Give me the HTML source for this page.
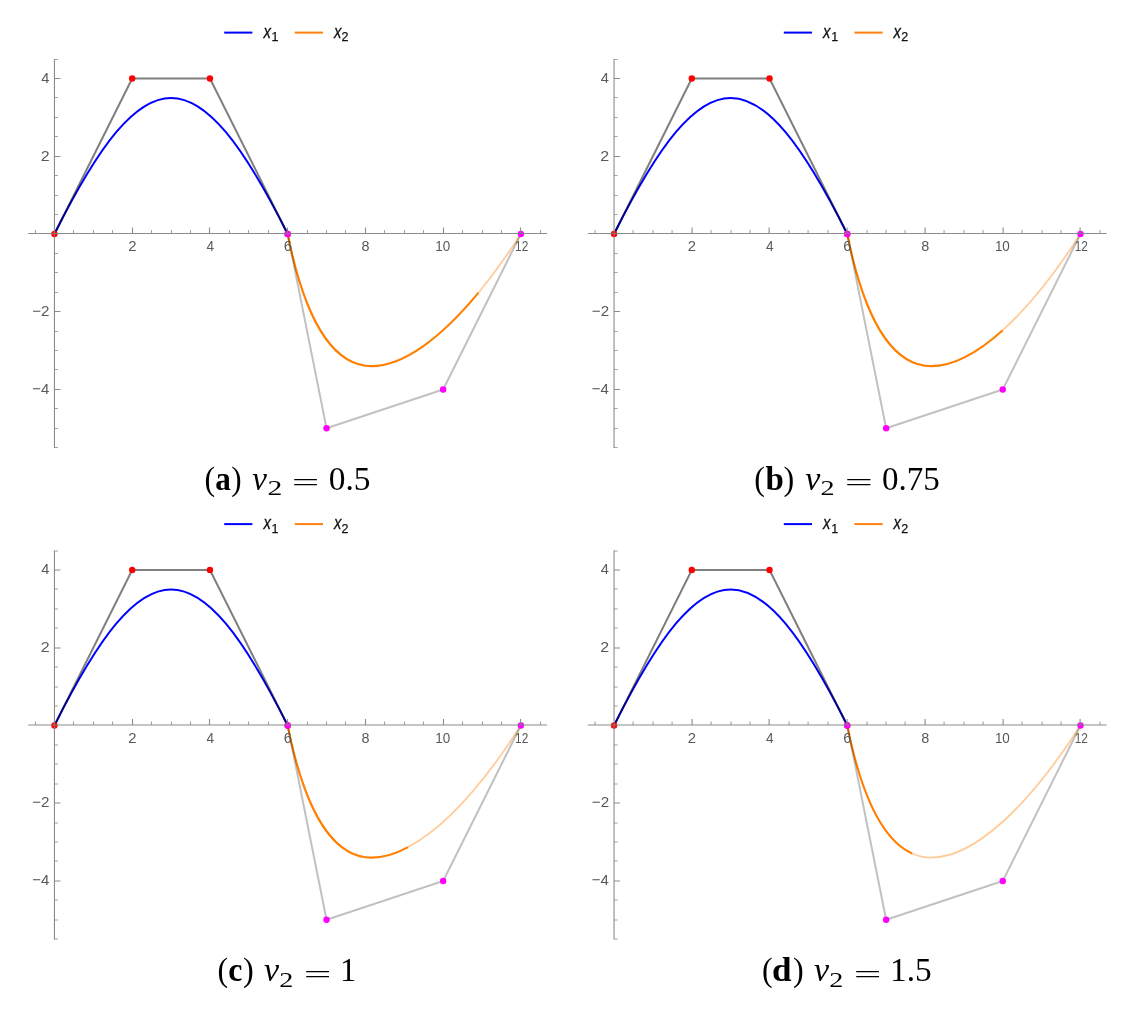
<!DOCTYPE html>
<html><head><meta charset="utf-8"><title>Figure</title>
<style>
html,body{margin:0;padding:0;background:#fff;overflow:hidden}
svg{display:block}
.tk{font-family:"Liberation Sans",sans-serif;fill:#595959}
.lg{font-family:"Liberation Sans",sans-serif;fill:#111;stroke:#111;stroke-width:0.25px}
.lgi{font-style:italic}
.sub{font-size:12.5px}
.cap{font-family:"Liberation Serif","DejaVu Serif",serif;fill:#000}
.capb{font-weight:bold}
.capi{font-style:italic}
</style></head><body>
<svg width="1135" height="1012" viewBox="0 0 1135 1012">
<rect width="1135" height="1012" fill="#fff"/>
<g transform="translate(0 0)">
<line x1="224.2" y1="32.6" x2="252.4" y2="32.6" stroke="#0000ff" stroke-width="2"/>
<text class="lg lgi" font-size="18" transform="translate(263.42 37.6) scale(0.8296 1.0000)">x</text>
<text class="lg sub" x="271.6" y="41">1</text>
<line x1="294.8" y1="32.6" x2="323" y2="32.6" stroke="#ff7f0e" stroke-width="2"/>
<text class="lg lgi" font-size="18" transform="translate(333.92 37.6) scale(0.8296 1.0000)">x</text>
<text class="lg sub" x="341.6" y="41">2</text>
<path d="M54.45 233.95C145.15 52.56 196.97 52.56 287.67 233.95" fill="none" stroke="#0000ff" stroke-width="2"/>
<path d="M287.67 233.95C307.84 334.82 340.01 366.11 371.55 366.11C402.71 366.11 440.16 339.18 478.52 292.7" fill="none" stroke="#ff7f00" stroke-width="2.1"/>
<path d="M478.52 292.7C492.61 275.63 506.82 255.93 520.89 233.95" fill="none" stroke="#ff7f00" stroke-opacity="0.4" stroke-width="1.8"/>
<polyline points="54.45,233.95 132.19,78.47 209.93,78.47 287.67,233.95" fill="none" stroke="#000" stroke-opacity="0.5" stroke-width="2" stroke-linejoin="round"/>
<polyline points="287.67,233.95 326.54,428.3 443.15,389.43 520.89,233.95" fill="none" stroke="#000" stroke-opacity="0.245" stroke-width="2" stroke-linejoin="round"/>
<circle cx="54.45" cy="233.95" r="3.2" fill="#ff0000"/>
<circle cx="132.19" cy="78.47" r="3.2" fill="#ff0000"/>
<circle cx="209.93" cy="78.47" r="3.2" fill="#ff0000"/>
<circle cx="287.67" cy="233.95" r="3.2" fill="#ff0000"/>
<circle cx="287.67" cy="233.95" r="3.2" fill="#ff00ff"/>
<circle cx="326.54" cy="428.3" r="3.2" fill="#ff00ff"/>
<circle cx="443.15" cy="389.43" r="3.2" fill="#ff00ff"/>
<circle cx="520.89" cy="233.95" r="3.2" fill="#ff00ff"/>
<g stroke="#7f7f7f" stroke-width="1.1" stroke-opacity="0.9">
<line x1="28.2" y1="233.5" x2="547" y2="233.5"/>
<line x1="54.45" y1="59" x2="54.45" y2="448"/>
</g>
<path d="M132.5 233.5v-6M209.5 233.5v-6M287.5 233.5v-6M365.5 233.5v-6M443.5 233.5v-6M520.5 233.5v-6M54.45 389.5h6M54.45 311.5h6M54.45 156.5h6M54.45 78.5h6" stroke="#7f7f7f" stroke-width="1.1" stroke-opacity="0.9" fill="none"/>
<path d="M35.5 233.5v-3.6M73.5 233.5v-3.6M93.5 233.5v-3.6M112.5 233.5v-3.6M151.5 233.5v-3.6M171.5 233.5v-3.6M190.5 233.5v-3.6M229.5 233.5v-3.6M248.5 233.5v-3.6M268.5 233.5v-3.6M307.5 233.5v-3.6M326.5 233.5v-3.6M345.5 233.5v-3.6M384.5 233.5v-3.6M404.5 233.5v-3.6M423.5 233.5v-3.6M462.5 233.5v-3.6M482.5 233.5v-3.6M501.5 233.5v-3.6M540.5 233.5v-3.6M54.45 447.5h3.6M54.45 428.5h3.6M54.45 408.5h3.6M54.45 369.5h3.6M54.45 350.5h3.6M54.45 331.5h3.6M54.45 292.5h3.6M54.45 272.5h3.6M54.45 253.5h3.6M54.45 214.5h3.6M54.45 195.5h3.6M54.45 175.5h3.6M54.45 136.5h3.6M54.45 117.5h3.6M54.45 97.5h3.6M54.45 59.5h3.6" stroke="#7f7f7f" stroke-width="1.1" stroke-opacity="0.7" fill="none"/>
<text class="tk" font-size="14.8" transform="translate(128.23 251.3) scale(1.0074 1.0244)">2</text>
<text class="tk" font-size="14.8" transform="translate(206.38 251.3) scale(0.9220 1.0370)">4</text>
<text class="tk" font-size="14.8" transform="translate(283.73 251.17) scale(0.9891 1.0120)">6</text>
<text class="tk" font-size="14.8" transform="translate(361.6 251.17) scale(0.9714 1.0120)">8</text>
<text class="tk" font-size="14.8" transform="translate(435.28 251.17) scale(0.9085 1.0120)">10</text>
<text class="tk" font-size="14.8" transform="translate(515.1 251.3) scale(0.8000 1.0244)">12</text>
<text class="tk" font-size="14.8" transform="translate(41.13 82.7) scale(0.9898 1.0272)">4</text>
<text class="tk" font-size="14.8" transform="translate(40.69 160.7) scale(1.0815 1.0146)">2</text>
<text class="tk" font-size="14.8" transform="translate(32.23 315.7) scale(1.0276 1.0146)">−2</text>
<text class="tk" font-size="14.8" transform="translate(32.24 393.7) scale(1.0112 1.0272)">−4</text>
<text class="cap" font-size="34" transform="translate(204.49 489.8) scale(0.9371 1.0000)">(</text>
<text class="cap capb" font-size="34" transform="translate(215.37 489.8) scale(0.9171 1.0000)">a</text>
<text class="cap" font-size="34" transform="translate(231.17 489.8) scale(0.9143 1.0000)">)</text>
<text class="cap capi" font-size="34" transform="translate(252.31 489.8) scale(0.9709 1.0000)">v</text>
<text class="cap" font-size="21" transform="translate(267.46 495.2) scale(1.4118 1.0234)">2</text>
<text class="cap" font-size="34" transform="translate(291.77 491.07) scale(1.4362 0.7529)">=</text>
<text class="cap" font-size="34" transform="translate(328.77 489.8) scale(0.9831 1.0000)">0.5</text>
</g>
<g transform="translate(559.6 0)">
<line x1="224.2" y1="32.6" x2="252.4" y2="32.6" stroke="#0000ff" stroke-width="2"/>
<text class="lg lgi" font-size="18" transform="translate(263.42 37.6) scale(0.8296 1.0000)">x</text>
<text class="lg sub" x="271.6" y="41">1</text>
<line x1="294.8" y1="32.6" x2="323" y2="32.6" stroke="#ff7f0e" stroke-width="2"/>
<text class="lg lgi" font-size="18" transform="translate(333.92 37.6) scale(0.8296 1.0000)">x</text>
<text class="lg sub" x="341.6" y="41">2</text>
<path d="M54.45 233.95C145.15 52.56 196.97 52.56 287.67 233.95" fill="none" stroke="#0000ff" stroke-width="2"/>
<path d="M287.67 233.95C307.84 334.82 340.01 366.11 371.55 366.11C393.02 366.11 417.47 353.33 443.15 330.18" fill="none" stroke="#ff7f00" stroke-width="2.1"/>
<path d="M443.15 330.18C468.43 307.39 494.91 274.54 520.89 233.95" fill="none" stroke="#ff7f00" stroke-opacity="0.4" stroke-width="1.8"/>
<polyline points="54.45,233.95 132.19,78.47 209.93,78.47 287.67,233.95" fill="none" stroke="#000" stroke-opacity="0.5" stroke-width="2" stroke-linejoin="round"/>
<polyline points="287.67,233.95 326.54,428.3 443.15,389.43 520.89,233.95" fill="none" stroke="#000" stroke-opacity="0.245" stroke-width="2" stroke-linejoin="round"/>
<circle cx="54.45" cy="233.95" r="3.2" fill="#ff0000"/>
<circle cx="132.19" cy="78.47" r="3.2" fill="#ff0000"/>
<circle cx="209.93" cy="78.47" r="3.2" fill="#ff0000"/>
<circle cx="287.67" cy="233.95" r="3.2" fill="#ff0000"/>
<circle cx="287.67" cy="233.95" r="3.2" fill="#ff00ff"/>
<circle cx="326.54" cy="428.3" r="3.2" fill="#ff00ff"/>
<circle cx="443.15" cy="389.43" r="3.2" fill="#ff00ff"/>
<circle cx="520.89" cy="233.95" r="3.2" fill="#ff00ff"/>
<g stroke="#7f7f7f" stroke-width="1.1" stroke-opacity="0.9">
<line x1="28.2" y1="233.5" x2="547" y2="233.5"/>
<line x1="54.45" y1="59" x2="54.45" y2="448"/>
</g>
<path d="M132.5 233.5v-6M209.5 233.5v-6M287.5 233.5v-6M365.5 233.5v-6M443.5 233.5v-6M520.5 233.5v-6M54.45 389.5h6M54.45 311.5h6M54.45 156.5h6M54.45 78.5h6" stroke="#7f7f7f" stroke-width="1.1" stroke-opacity="0.9" fill="none"/>
<path d="M35.5 233.5v-3.6M73.5 233.5v-3.6M93.5 233.5v-3.6M112.5 233.5v-3.6M151.5 233.5v-3.6M171.5 233.5v-3.6M190.5 233.5v-3.6M229.5 233.5v-3.6M248.5 233.5v-3.6M268.5 233.5v-3.6M307.5 233.5v-3.6M326.5 233.5v-3.6M345.5 233.5v-3.6M384.5 233.5v-3.6M404.5 233.5v-3.6M423.5 233.5v-3.6M462.5 233.5v-3.6M482.5 233.5v-3.6M501.5 233.5v-3.6M540.5 233.5v-3.6M54.45 447.5h3.6M54.45 428.5h3.6M54.45 408.5h3.6M54.45 369.5h3.6M54.45 350.5h3.6M54.45 331.5h3.6M54.45 292.5h3.6M54.45 272.5h3.6M54.45 253.5h3.6M54.45 214.5h3.6M54.45 195.5h3.6M54.45 175.5h3.6M54.45 136.5h3.6M54.45 117.5h3.6M54.45 97.5h3.6M54.45 59.5h3.6" stroke="#7f7f7f" stroke-width="1.1" stroke-opacity="0.7" fill="none"/>
<text class="tk" font-size="14.8" transform="translate(128.23 251.3) scale(1.0074 1.0244)">2</text>
<text class="tk" font-size="14.8" transform="translate(206.38 251.3) scale(0.9220 1.0370)">4</text>
<text class="tk" font-size="14.8" transform="translate(283.73 251.17) scale(0.9891 1.0120)">6</text>
<text class="tk" font-size="14.8" transform="translate(361.6 251.17) scale(0.9714 1.0120)">8</text>
<text class="tk" font-size="14.8" transform="translate(435.28 251.17) scale(0.9085 1.0120)">10</text>
<text class="tk" font-size="14.8" transform="translate(515.1 251.3) scale(0.8000 1.0244)">12</text>
<text class="tk" font-size="14.8" transform="translate(41.13 82.7) scale(0.9898 1.0272)">4</text>
<text class="tk" font-size="14.8" transform="translate(40.69 160.7) scale(1.0815 1.0146)">2</text>
<text class="tk" font-size="14.8" transform="translate(32.23 315.7) scale(1.0276 1.0146)">−2</text>
<text class="tk" font-size="14.8" transform="translate(32.24 393.7) scale(1.0112 1.0272)">−4</text>
<text class="cap" font-size="34" transform="translate(194.59 489.8) scale(0.9371 1.0000)">(</text>
<text class="cap capb" font-size="34" transform="translate(205.84 489.8) scale(0.9693 1.0000)">b</text>
<text class="cap" font-size="34" transform="translate(223.93 489.8) scale(0.9486 1.0000)">)</text>
<text class="cap capi" font-size="34" transform="translate(245.7 489.8) scale(0.9983 1.0000)">v</text>
<text class="cap" font-size="21" transform="translate(260.93 495.2) scale(1.3412 1.0234)">2</text>
<text class="cap" font-size="34" transform="translate(285.21 491.07) scale(1.4677 0.7529)">=</text>
<text class="cap" font-size="34" transform="translate(322.49 489.8) scale(0.9705 1.0000)">0.75</text>
</g>
<g transform="translate(0 491.5)">
<line x1="224.2" y1="32.6" x2="252.4" y2="32.6" stroke="#0000ff" stroke-width="2"/>
<text class="lg lgi" font-size="18" transform="translate(263.42 37.6) scale(0.8296 1.0000)">x</text>
<text class="lg sub" x="271.6" y="41">1</text>
<line x1="294.8" y1="32.6" x2="323" y2="32.6" stroke="#ff7f0e" stroke-width="2"/>
<text class="lg lgi" font-size="18" transform="translate(333.92 37.6) scale(0.8296 1.0000)">x</text>
<text class="lg sub" x="341.6" y="41">2</text>
<path d="M54.45 233.95C145.15 52.56 196.97 52.56 287.67 233.95" fill="none" stroke="#0000ff" stroke-width="2"/>
<path d="M287.67 233.95C307.84 334.82 340.01 366.11 371.55 366.11C383 366.11 395.29 362.47 408.17 355.57" fill="none" stroke="#ff7f00" stroke-width="2.1"/>
<path d="M408.17 355.57C443.22 336.79 482.58 293.79 520.89 233.95" fill="none" stroke="#ff7f00" stroke-opacity="0.4" stroke-width="1.8"/>
<polyline points="54.45,233.95 132.19,78.47 209.93,78.47 287.67,233.95" fill="none" stroke="#000" stroke-opacity="0.5" stroke-width="2" stroke-linejoin="round"/>
<polyline points="287.67,233.95 326.54,428.3 443.15,389.43 520.89,233.95" fill="none" stroke="#000" stroke-opacity="0.245" stroke-width="2" stroke-linejoin="round"/>
<circle cx="54.45" cy="233.95" r="3.2" fill="#ff0000"/>
<circle cx="132.19" cy="78.47" r="3.2" fill="#ff0000"/>
<circle cx="209.93" cy="78.47" r="3.2" fill="#ff0000"/>
<circle cx="287.67" cy="233.95" r="3.2" fill="#ff0000"/>
<circle cx="287.67" cy="233.95" r="3.2" fill="#ff00ff"/>
<circle cx="326.54" cy="428.3" r="3.2" fill="#ff00ff"/>
<circle cx="443.15" cy="389.43" r="3.2" fill="#ff00ff"/>
<circle cx="520.89" cy="233.95" r="3.2" fill="#ff00ff"/>
<g stroke="#7f7f7f" stroke-width="1.1" stroke-opacity="0.9">
<line x1="28.2" y1="233.5" x2="547" y2="233.5"/>
<line x1="54.45" y1="59" x2="54.45" y2="448"/>
</g>
<path d="M132.5 233.5v-6M209.5 233.5v-6M287.5 233.5v-6M365.5 233.5v-6M443.5 233.5v-6M520.5 233.5v-6M54.45 389.5h6M54.45 311.5h6M54.45 156.5h6M54.45 78.5h6" stroke="#7f7f7f" stroke-width="1.1" stroke-opacity="0.9" fill="none"/>
<path d="M35.5 233.5v-3.6M73.5 233.5v-3.6M93.5 233.5v-3.6M112.5 233.5v-3.6M151.5 233.5v-3.6M171.5 233.5v-3.6M190.5 233.5v-3.6M229.5 233.5v-3.6M248.5 233.5v-3.6M268.5 233.5v-3.6M307.5 233.5v-3.6M326.5 233.5v-3.6M345.5 233.5v-3.6M384.5 233.5v-3.6M404.5 233.5v-3.6M423.5 233.5v-3.6M462.5 233.5v-3.6M482.5 233.5v-3.6M501.5 233.5v-3.6M540.5 233.5v-3.6M54.45 447.5h3.6M54.45 428.5h3.6M54.45 408.5h3.6M54.45 369.5h3.6M54.45 350.5h3.6M54.45 331.5h3.6M54.45 292.5h3.6M54.45 272.5h3.6M54.45 253.5h3.6M54.45 214.5h3.6M54.45 195.5h3.6M54.45 175.5h3.6M54.45 136.5h3.6M54.45 117.5h3.6M54.45 97.5h3.6M54.45 59.5h3.6" stroke="#7f7f7f" stroke-width="1.1" stroke-opacity="0.7" fill="none"/>
<text class="tk" font-size="14.8" transform="translate(128.23 251.3) scale(1.0074 1.0244)">2</text>
<text class="tk" font-size="14.8" transform="translate(206.38 251.3) scale(0.9220 1.0370)">4</text>
<text class="tk" font-size="14.8" transform="translate(283.73 251.17) scale(0.9891 1.0120)">6</text>
<text class="tk" font-size="14.8" transform="translate(361.6 251.17) scale(0.9714 1.0120)">8</text>
<text class="tk" font-size="14.8" transform="translate(435.28 251.17) scale(0.9085 1.0120)">10</text>
<text class="tk" font-size="14.8" transform="translate(515.1 251.3) scale(0.8000 1.0244)">12</text>
<text class="tk" font-size="14.8" transform="translate(41.13 82.7) scale(0.9898 1.0272)">4</text>
<text class="tk" font-size="14.8" transform="translate(40.69 160.7) scale(1.0815 1.0146)">2</text>
<text class="tk" font-size="14.8" transform="translate(32.23 315.7) scale(1.0276 1.0146)">−2</text>
<text class="tk" font-size="14.8" transform="translate(32.24 393.7) scale(1.0112 1.0272)">−4</text>
<text class="cap" font-size="34" transform="translate(217.39 489.8) scale(0.9371 1.0000)">(</text>
<text class="cap capb" font-size="34" transform="translate(228.35 489.8) scale(0.9371 1.0000)">c</text>
<text class="cap" font-size="34" transform="translate(242.93 489.8) scale(0.9486 1.0000)">)</text>
<text class="cap capi" font-size="34" transform="translate(264.1 489.8) scale(0.9983 1.0000)">v</text>
<text class="cap" font-size="21" transform="translate(279.33 495.2) scale(1.3412 1.0234)">2</text>
<text class="cap" font-size="34" transform="translate(303.66 491.07) scale(1.4425 0.7529)">=</text>
<text class="cap" font-size="34" transform="translate(340.12 489.8) scale(0.9583 1.0000)">1</text>
</g>
<g transform="translate(559.6 491.5)">
<line x1="224.2" y1="32.6" x2="252.4" y2="32.6" stroke="#0000ff" stroke-width="2"/>
<text class="lg lgi" font-size="18" transform="translate(263.42 37.6) scale(0.8296 1.0000)">x</text>
<text class="lg sub" x="271.6" y="41">1</text>
<line x1="294.8" y1="32.6" x2="323" y2="32.6" stroke="#ff7f0e" stroke-width="2"/>
<text class="lg lgi" font-size="18" transform="translate(333.92 37.6) scale(0.8296 1.0000)">x</text>
<text class="lg sub" x="341.6" y="41">2</text>
<path d="M54.45 233.95C145.15 52.56 196.97 52.56 287.67 233.95" fill="none" stroke="#0000ff" stroke-width="2"/>
<path d="M287.67 233.95C303.79 314.57 327.58 350.74 352.58 362.02" fill="none" stroke="#ff7f00" stroke-width="2.1"/>
<path d="M352.58 362.02C358.86 364.85 365.22 366.11 371.55 366.11C414.15 366.11 468.51 315.77 520.89 233.95" fill="none" stroke="#ff7f00" stroke-opacity="0.4" stroke-width="1.8"/>
<polyline points="54.45,233.95 132.19,78.47 209.93,78.47 287.67,233.95" fill="none" stroke="#000" stroke-opacity="0.5" stroke-width="2" stroke-linejoin="round"/>
<polyline points="287.67,233.95 326.54,428.3 443.15,389.43 520.89,233.95" fill="none" stroke="#000" stroke-opacity="0.245" stroke-width="2" stroke-linejoin="round"/>
<circle cx="54.45" cy="233.95" r="3.2" fill="#ff0000"/>
<circle cx="132.19" cy="78.47" r="3.2" fill="#ff0000"/>
<circle cx="209.93" cy="78.47" r="3.2" fill="#ff0000"/>
<circle cx="287.67" cy="233.95" r="3.2" fill="#ff0000"/>
<circle cx="287.67" cy="233.95" r="3.2" fill="#ff00ff"/>
<circle cx="326.54" cy="428.3" r="3.2" fill="#ff00ff"/>
<circle cx="443.15" cy="389.43" r="3.2" fill="#ff00ff"/>
<circle cx="520.89" cy="233.95" r="3.2" fill="#ff00ff"/>
<g stroke="#7f7f7f" stroke-width="1.1" stroke-opacity="0.9">
<line x1="28.2" y1="233.5" x2="547" y2="233.5"/>
<line x1="54.45" y1="59" x2="54.45" y2="448"/>
</g>
<path d="M132.5 233.5v-6M209.5 233.5v-6M287.5 233.5v-6M365.5 233.5v-6M443.5 233.5v-6M520.5 233.5v-6M54.45 389.5h6M54.45 311.5h6M54.45 156.5h6M54.45 78.5h6" stroke="#7f7f7f" stroke-width="1.1" stroke-opacity="0.9" fill="none"/>
<path d="M35.5 233.5v-3.6M73.5 233.5v-3.6M93.5 233.5v-3.6M112.5 233.5v-3.6M151.5 233.5v-3.6M171.5 233.5v-3.6M190.5 233.5v-3.6M229.5 233.5v-3.6M248.5 233.5v-3.6M268.5 233.5v-3.6M307.5 233.5v-3.6M326.5 233.5v-3.6M345.5 233.5v-3.6M384.5 233.5v-3.6M404.5 233.5v-3.6M423.5 233.5v-3.6M462.5 233.5v-3.6M482.5 233.5v-3.6M501.5 233.5v-3.6M540.5 233.5v-3.6M54.45 447.5h3.6M54.45 428.5h3.6M54.45 408.5h3.6M54.45 369.5h3.6M54.45 350.5h3.6M54.45 331.5h3.6M54.45 292.5h3.6M54.45 272.5h3.6M54.45 253.5h3.6M54.45 214.5h3.6M54.45 195.5h3.6M54.45 175.5h3.6M54.45 136.5h3.6M54.45 117.5h3.6M54.45 97.5h3.6M54.45 59.5h3.6" stroke="#7f7f7f" stroke-width="1.1" stroke-opacity="0.7" fill="none"/>
<text class="tk" font-size="14.8" transform="translate(128.23 251.3) scale(1.0074 1.0244)">2</text>
<text class="tk" font-size="14.8" transform="translate(206.38 251.3) scale(0.9220 1.0370)">4</text>
<text class="tk" font-size="14.8" transform="translate(283.73 251.17) scale(0.9891 1.0120)">6</text>
<text class="tk" font-size="14.8" transform="translate(361.6 251.17) scale(0.9714 1.0120)">8</text>
<text class="tk" font-size="14.8" transform="translate(435.28 251.17) scale(0.9085 1.0120)">10</text>
<text class="tk" font-size="14.8" transform="translate(515.1 251.3) scale(0.8000 1.0244)">12</text>
<text class="tk" font-size="14.8" transform="translate(41.13 82.7) scale(0.9898 1.0272)">4</text>
<text class="tk" font-size="14.8" transform="translate(40.69 160.7) scale(1.0815 1.0146)">2</text>
<text class="tk" font-size="14.8" transform="translate(32.23 315.7) scale(1.0276 1.0146)">−2</text>
<text class="tk" font-size="14.8" transform="translate(32.24 393.7) scale(1.0112 1.0272)">−4</text>
<text class="cap" font-size="34" transform="translate(202.49 489.8) scale(0.9371 1.0000)">(</text>
<text class="cap capb" font-size="34" transform="translate(212.48 489.8) scale(1.0336 1.0000)">d</text>
<text class="cap" font-size="34" transform="translate(233.33 489.8) scale(0.9486 1.0000)">)</text>
<text class="cap capi" font-size="34" transform="translate(254.5 489.8) scale(0.9983 1.0000)">v</text>
<text class="cap" font-size="21" transform="translate(269.73 495.2) scale(1.3412 1.0234)">2</text>
<text class="cap" font-size="34" transform="translate(294.06 491.07) scale(1.4425 0.7529)">=</text>
<text class="cap" font-size="34" transform="translate(330.46 489.8) scale(0.9810 1.0000)">1.5</text>
</g>
</svg>
</body></html>
